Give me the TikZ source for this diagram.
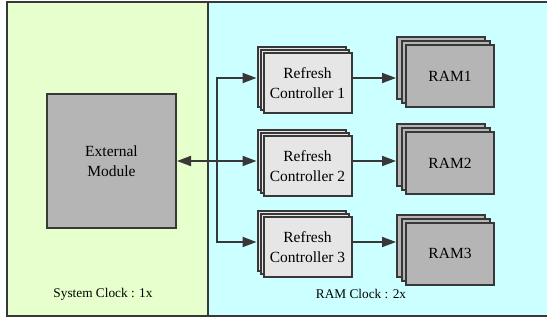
\documentclass[tikz,border=0pt]{standalone}
\usepackage{fontspec}
\setmainfont{Liberation Serif}
\usetikzlibrary{arrows.meta,shadows}

\definecolor{sysbg}{HTML}{E6FFCC}
\definecolor{rambg}{HTML}{CCFFFF}
\definecolor{edge}{HTML}{383838}
\definecolor{darkbox}{HTML}{B5B5B5}
\definecolor{lightbox}{HTML}{E6E6E6}

\tikzset{
  box/.style={draw=edge, line width=2pt, align=center, inner sep=0pt},
  layer/.style={fill=#1, draw=edge, line width=2pt},
  ctrlbox/.style={box, fill=lightbox, minimum width=88pt, minimum height=60pt,
    copy shadow={shadow xshift=-6pt, shadow yshift=6pt, layer=lightbox},
    copy shadow={shadow xshift=-3pt, shadow yshift=3pt, layer=lightbox}},
  rambox/.style={box, fill=darkbox, minimum width=88pt, minimum height=62pt,
    copy shadow={shadow xshift=-9pt, shadow yshift=8pt, layer=darkbox},
    copy shadow={shadow xshift=-4.5pt, shadow yshift=4pt, layer=darkbox}},
  link/.style={draw=edge, line width=1.8pt, -{Triangle[length=14pt,width=10pt]}},
  clocklabel/.style={font=\fontsize{13.3}{16}\selectfont}
}

\begin{document}
\begin{tikzpicture}[x=1pt, y=-1pt, font=\fontsize{15.5}{20.5}\selectfont]
  \clip (0,0) rectangle (547,321);
  % clock domains
  \fill[sysbg] (7,2) rectangle (208,316);
  \fill[rambg] (208,2) rectangle (560,316);
  \draw[edge, line width=2pt] (560,2) -| (7,316) -- (560,316) (208,2) -- (208,316);
  \node[clocklabel] (sysclk) at (103,294) {System Clock : 1x};
  \node[clocklabel] (ramclk) at (361,294) {RAM Clock : 2x};

  \node[box, fill=darkbox, minimum width=129pt, minimum height=133pt] (ext)
    at (111.5,161) {External\\Module};
  \coordinate (bus) at (217,161);

  \foreach \y [count = \n, evaluate = \n as \yr using
  {{76,163,253.5}[\n - 1]}] in {78,161,242}{
    \node[ctrlbox] (ctrl\n) at (307.5,\y+5) {Refresh\\Controller \n};
    \node[rambox] (ram\n) at (450,\yr) {RAM\n};
    \coordinate (feed\n) at ([xshift=-6pt, yshift=5pt]ctrl\n.west);
    \coordinate (out\n) at ([yshift=5pt]ctrl\n.east);
    \coordinate (in\n) at ([xshift=-9pt]ram\n.west);
    \draw[link] (out\n) -- (out\n -| in\n);
  }

  \draw[link] (bus) |- (feed1);
  \draw[link] (bus) |- (feed3);
  \draw[link, {Triangle[length=14pt,width=10pt]}-{Triangle[length=14pt,width=10pt]}]
    (ext) -- (feed2);
\end{tikzpicture}
\end{document}
